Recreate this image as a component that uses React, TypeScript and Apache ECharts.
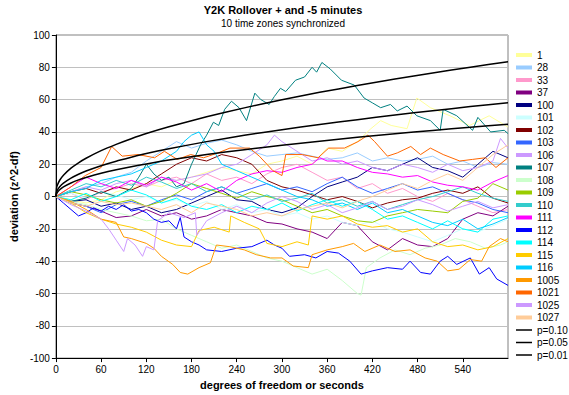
import React, { useEffect, useRef } from "react";
import * as echarts from "echarts";

// ---- data (x = seconds, y = deviation z^2-df) ----
const s1 = [[0,0],[20,-2],[40,-4],[60,-2],[80,3],[100,5],[120,8],[140,6],[160,10],[180,12],[200,15],[220,18],[240,16],[260,14],[280,20],[300,22],[320,25],[340,20],[360,30],[380,28],[400,34],[418,42],[431,47],[445,44],[466,42],[479,61],[497,55],[523,50],[549,44],[575,50],[600,43]];
const s28 = [[0,0],[20,3],[40,6],[60,8],[80,12],[100,15],[120,22],[140,28],[160,34],[180,30],[200,33],[220,35],[240,32],[260,28],[280,25],[300,26],[320,27],[340,25],[360,23],[380,24],[400,27],[420,22],[440,24],[460,22],[480,23],[500,25],[520,20],[540,22],[560,18],[580,21],[600,20]];
const s33 = [[0,0],[20,2],[40,-2],[60,3],[80,5],[100,8],[120,6],[140,10],[160,12],[180,8],[200,14],[220,10],[240,12],[260,8],[280,14],[300,18],[320,20],[340,15],[360,10],[380,12],[400,5],[420,8],[440,2],[460,5],[480,0],[500,-3],[520,2],[540,-2],[560,-6],[580,-10],[600,-8]];
const s37 = [[0,0],[20,-4],[40,-6],[60,-9],[80,-13],[100,-12],[120,-8],[140,-12],[160,-10],[180,-14],[200,-12],[220,-8],[240,-10],[260,-12],[280,-16],[300,-17],[320,-20],[340,-22],[360,-26],[380,-16],[400,-18],[420,-28],[440,-33],[460,-26],[480,-30],[500,-31],[520,-26],[540,-14],[560,-10],[580,-12],[600,-6]];
const s100 = [[0,0],[20,-3],[40,-2],[60,-6],[80,-4],[100,-8],[120,-6],[140,-10],[160,-8],[180,-4],[200,0],[220,4],[240,-2],[260,-3],[280,-8],[300,-10],[320,-7],[340,0],[360,6],[380,9],[400,12],[420,18],[440,16],[460,20],[480,24],[500,18],[520,16],[540,12],[560,20],[580,28],[600,24]];
const s101 = [[0,0],[20,2],[40,-1],[60,3],[80,1],[100,-2],[120,0],[140,-4],[160,-2],[180,-6],[200,-3],[220,-8],[240,-5],[260,-10],[280,-8],[300,-12],[320,-10],[340,-14],[360,-12],[380,-16],[400,-18],[420,-15],[440,-20],[460,-22],[480,-25],[500,-28],[520,-24],[540,-20],[560,-22],[580,-18],[600,-14]];
const s102 = [[0,0],[20,3],[40,5],[60,2],[80,6],[100,4],[120,8],[140,14],[160,20],[180,24],[200,22],[220,26],[240,24],[260,20],[280,10],[300,6],[320,4],[340,1],[360,-2],[380,0],[400,-3],[420,-7],[440,-4],[460,-2],[480,-1],[500,2],[520,4],[540,2],[560,6],[580,-1],[600,-4]];
const s103 = [[0,0],[20,-4],[40,-6],[60,-10],[80,-5],[100,-3],[120,-6],[140,-2],[160,1],[180,-2],[200,3],[220,6],[240,2],[260,5],[280,8],[300,4],[320,6],[340,3],[360,8],[380,12],[400,6],[420,2],[440,5],[460,8],[480,4],[500,6],[520,2],[540,-2],[560,-4],[580,-8],[600,-10]];
const s106 = [[0,0],[20,3],[40,6],[60,4],[80,8],[100,10],[120,6],[140,12],[160,10],[180,12],[200,14],[220,18],[240,20],[260,26],[280,32],[290,38],[300,34],[320,28],[340,22],[360,24],[380,20],[400,22],[420,18],[440,16],[460,20],[480,18],[500,15],[520,20],[540,16],[560,18],[580,22],[590,36],[600,30]];
const s107 = [[0,0],[20,-3],[40,-1],[60,3],[80,0],[100,5],[110,12],[120,20],[130,14],[140,10],[150,12],[160,6],[170,8],[180,20],[192,32],[200,38],[209,46],[216,44],[224,54],[233,59],[243,55],[253,47],[264,64],[272,60],[283,57],[290,62],[298,67],[305,65],[318,72],[330,74],[340,80],[346,77],[353,83],[364,79],[379,72],[396,69],[409,61],[420,58],[431,55],[444,57],[453,53],[466,56],[479,50],[497,47],[510,41],[514,54],[532,50],[553,41],[560,49],[577,40],[595,41],[600,39]];
const s108 = [[0,0],[20,-3],[40,-5],[60,-8],[80,-10],[100,-12],[120,-15],[140,-14],[160,-20],[180,-24],[200,-28],[220,-32],[240,-30],[260,-34],[280,-38],[300,-40],[320,-44],[340,-48],[360,-45],[380,-52],[400,-60],[405,-61],[412,-44],[430,-38],[450,-33],[470,-36],[490,-32],[510,-30],[530,-26],[550,-28],[570,-32],[590,-30],[600,-28]];
const s109 = [[0,0],[20,3],[40,1],[60,-2],[80,-4],[100,-2],[120,-6],[140,-3],[160,2],[180,8],[200,5],[220,2],[240,-1],[260,3],[280,0],[300,-2],[320,-6],[340,-10],[360,-8],[380,-12],[400,-15],[420,-16],[440,-12],[460,-10],[480,-8],[500,-9],[520,-10],[540,-3],[560,-1],[580,8],[600,4]];
const s110 = [[0,0],[20,4],[40,8],[60,6],[80,10],[100,7],[120,12],[140,9],[160,5],[180,8],[200,3],[220,6],[240,2],[260,-2],[280,1],[300,-3],[320,-1],[340,2],[360,-4],[380,-2],[400,-6],[420,-3],[440,-8],[460,-5],[480,-2],[500,0],[520,3],[540,6],[560,2],[580,-1],[600,-3]];
const s111 = [[0,0],[20,6],[40,12],[60,8],[80,5],[100,10],[120,7],[140,12],[160,9],[180,4],[200,8],[220,3],[240,10],[260,14],[280,16],[300,15],[320,18],[340,20],[350,24],[360,22],[380,22],[400,18],[420,15],[440,14],[460,12],[480,13],[500,9],[520,7],[540,6],[560,4],[580,9],[600,13]];
const s112 = [[0,0],[10,-4],[20,-8],[30,-12],[40,-10],[50,-7],[60,-9],[70,-6],[80,-8],[90,-5],[100,-9],[110,-8],[120,-10],[130,-14],[140,-16],[150,-15],[160,-20],[165,-13],[170,-25],[180,-28],[190,-30],[200,-33],[220,-34],[240,-32],[260,-31],[280,-27],[290,-30],[300,-32],[310,-37],[330,-36],[345,-38],[360,-34],[375,-35],[390,-40],[405,-48],[420,-46],[440,-44],[460,-45],[470,-40],[484,-47],[497,-48],[510,-40],[520,-37],[532,-42],[550,-38],[562,-48],[575,-44],[585,-51],[600,-55]];
const s114 = [[0,0],[20,-2],[40,2],[60,-3],[80,0],[100,4],[120,1],[140,-4],[160,-1],[180,-6],[200,-8],[220,-5],[240,-10],[260,-6],[280,-8],[300,-4],[320,-9],[340,-5],[360,-2],[380,-6],[400,-3],[420,-8],[440,-14],[460,-12],[480,-16],[500,-20],[520,-15],[540,-20],[560,-22],[580,-14],[600,-12]];
const s115 = [[0,0],[20,-4],[40,-10],[60,-14],[80,-17],[100,-19],[120,-22],[140,-27],[160,-30],[180,-31],[190,-21],[210,-19],[230,-22],[232,-12],[250,-16],[270,-20],[280,-29],[300,-31],[320,-28],[335,-30],[340,-12],[360,-14],[380,-12],[400,-17],[420,-19],[440,-18],[460,-22],[480,-20],[500,-28],[520,-31],[540,-30],[560,-33],[580,-31],[600,-26]];
const s116 = [[0,0],[20,3],[40,5],[60,10],[80,12],[100,14],[120,18],[140,22],[160,28],[170,34],[180,38],[190,40],[200,32],[210,28],[220,20],[240,16],[260,12],[280,8],[300,4],[320,0],[340,-2],[360,-6],[380,-4],[400,-8],[420,-4],[440,-10],[460,-8],[480,-12],[500,-16],[520,-18],[540,-14],[560,-20],[580,-17],[600,-13]];
const s1005 = [[0,0],[20,-3],[40,-8],[60,-14],[80,-16],[90,-25],[100,-26],[120,-29],[130,-32],[140,-37],[155,-42],[165,-47],[175,-48],[190,-44],[205,-41],[213,-30],[230,-31],[250,-33],[266,-36],[285,-38],[300,-38],[315,-43],[335,-44],[340,-36],[360,-33],[380,-31],[395,-29],[410,-34],[430,-30],[450,-34],[470,-33],[490,-38],[506,-40],[520,-46],[535,-45],[550,-39],[565,-40],[575,-31],[590,-26],[600,-28]];
const s1021 = [[0,0],[20,6],[39,13],[60,18],[74,31],[88,25],[109,26],[131,24],[144,28],[161,23],[179,26],[196,24],[215,27],[231,30],[257,30],[270,25],[288,16],[300,13],[305,26],[327,26],[348,24],[362,30],[383,30],[401,34],[414,38],[423,34],[440,25],[453,27],[471,31],[484,26],[497,30],[514,26],[536,22],[553,23],[570,24],[584,18],[600,24]];
const s1025 = [[0,0],[20,-5],[40,-9],[60,-14],[70,-20],[80,-27],[90,-34],[95,-26],[105,-30],[115,-37],[120,-31],[130,-33],[135,-15],[150,-10],[170,-13],[185,-10],[187,-24],[200,-15],[220,-10],[240,-6],[260,-10],[280,-4],[300,0],[320,-3],[340,-8],[360,-5],[380,-10],[400,-7],[420,-3],[440,-8],[460,-6],[480,-2],[500,-5],[520,-9],[540,-6],[560,-3],[580,-7],[600,-5]];
const s1027 = [[0,0],[20,-4],[40,-6],[60,-3],[80,-5],[100,-4],[120,-6],[140,-8],[160,-5],[180,-10],[200,-4],[220,-6],[240,-8],[260,-12],[280,-10],[300,-12],[320,-8],[340,-6],[360,-4],[380,-7],[400,-3],[420,0],[440,4],[460,8],[480,5],[500,10],[520,14],[540,10],[560,18],[580,26],[600,32]];

// critical curves (chi-square critical value minus df)
const p10 = [[0,0],[1,1.7],[2,2.6],[5,4.2],[10,6.0],[20,8.4],[30,10.3],[40,11.8],[60,14.4],[80,16.6],[100,18.5],[120,20.2],[150,22.6],[200,26.0],[250,29.0],[300,31.8],[350,34.3],[400,36.7],[450,38.9],[500,40.9],[550,42.9],[600,44.8]];
const p05 = [[0,0],[1,2.8],[2,4.0],[5,6.1],[10,8.3],[20,11.4],[30,13.8],[40,15.8],[60,19.1],[80,21.9],[100,24.3],[120,26.6],[150,29.6],[200,34.0],[250,37.9],[300,41.4],[350,44.6],[400,47.6],[450,50.5],[500,53.1],[550,55.7],[600,58.1]];
const p01 = [[0,0],[1,5.6],[2,7.2],[5,10.1],[10,13.2],[20,17.6],[30,20.9],[40,23.7],[60,28.4],[80,32.3],[100,35.8],[120,39.0],[150,43.2],[200,49.4],[250,54.9],[300,59.9],[350,64.5],[400,68.7],[450,72.7],[500,76.5],[550,80.1],[600,83.5]];

const seriesNames = ["1","28","33","37","100","101","102","103","106","107","108","109","110","111","112","114","115","116","1005","1021","1025","1027"];
const seriesData = [s1,s28,s33,s37,s100,s101,s102,s103,s106,s107,s108,s109,s110,s111,s112,s114,s115,s116,s1005,s1021,s1025,s1027];
const seriesColors = ["#FFFF99","#99CCFF","#FF99CC","#800080","#000080","#CCFFFF","#800000","#3366FF","#CC99FF","#008080","#CCFFCC","#99CC00","#33CCCC","#FF00FF","#0000FF","#00FFFF","#FFCC00","#00CCFF","#FF9900","#FF6600","#CC99FF","#FFCC99"];
const pNames = ["p=0.10","p=0.05","p=0.01"];
const pData = [p10, p05, p01];

const FONT = "'Liberation Sans', Arial, sans-serif";

export default function App() {
  const ref = useRef<HTMLDivElement>(null);
  useEffect(() => {
    if (!ref.current) return;
    const chart = echarts.init(ref.current, undefined, { renderer: "svg" });
    const series: any[] = seriesNames.map((n, i) => ({
      name: n,
      type: "line",
      data: seriesData[i],
      color: seriesColors[i],
      showSymbol: false,
      symbol: "none",
      lineStyle: { width: 1, color: seriesColors[i] },
      z: 2,
    }));
    pNames.forEach((n, i) => {
      series.push({
        name: n,
        type: "line",
        data: pData[i],
        color: "#000000",
        showSymbol: false,
        symbol: "none",
        smooth: 0.2,
        lineStyle: { width: 1.5, color: "#000000" },
        z: 3,
      });
    });
    const legendText = { fontSize: 10, color: "#000", lineHeight: 12, fontFamily: FONT };
    chart.setOption({
      animation: false,
      backgroundColor: "#ffffff",
      textStyle: { fontFamily: FONT },
      title: {
        text: "Y2K Rollover + and -5 minutes",
        subtext: "10 time zones synchronized",
        left: 283,
        textAlign: "center",
        top: 4,
        padding: 0,
        itemGap: 3,
        textStyle: { fontSize: 11, fontWeight: "bold", color: "#000", fontFamily: FONT },
        subtextStyle: { fontSize: 10, color: "#000", fontFamily: FONT },
      },
      legend: [
        {
          data: seriesNames,
          orient: "vertical",
          left: 516,
          top: 49,
          padding: 0,
          icon: "rect",
          itemWidth: 16,
          itemHeight: 4,
          itemGap: 0.5,
          selectedMode: false,
          textStyle: legendText,
        },
        {
          data: pNames,
          orient: "vertical",
          left: 516,
          top: 324,
          padding: 0,
          icon: "rect",
          itemWidth: 16,
          itemHeight: 1.5,
          itemGap: 0.5,
          selectedMode: false,
          textStyle: legendText,
        },
      ],
      grid: {
        left: 50,
        top: 35,
        right: 61,
        bottom: 32,
        show: true,
        borderColor: "#808080",
        borderWidth: 1,
        backgroundColor: "transparent",
      },
      xAxis: {
        type: "value",
        min: 0,
        max: 600,
        interval: 60,
        name: "degrees of freedom or seconds",
        nameLocation: "middle",
        nameGap: 17,
        nameTextStyle: { fontSize: 11, fontWeight: "bold", color: "#000", fontFamily: FONT },
        axisLine: { show: true, onZero: false, lineStyle: { color: "#000", width: 1 } },
        axisTick: { show: true, length: 4, lineStyle: { color: "#000" } },
        axisLabel: { fontSize: 10, color: "#000", margin: 6, showMaxLabel: false, fontFamily: FONT },
        splitLine: { show: false },
      },
      yAxis: {
        type: "value",
        min: -100,
        max: 100,
        interval: 20,
        name: "deviation (z^2-df)",
        nameLocation: "middle",
        nameGap: 32,
        nameRotate: 90,
        nameTextStyle: { fontSize: 11, fontWeight: "bold", color: "#000", fontFamily: FONT },
        axisLine: { show: true, onZero: false, lineStyle: { color: "#000", width: 1 } },
        axisTick: { show: true, length: 4, lineStyle: { color: "#000" } },
        axisLabel: { fontSize: 10, color: "#000", margin: 6, fontFamily: FONT },
        splitLine: { show: true, lineStyle: { color: "#C0C0C0", width: 1 } },
      },
      series,
    });
    return () => chart.dispose();
  }, []);
  return (
    <div
      ref={ref}
      style={{ position: "fixed", left: 0, top: 0, width: 569, height: 395, background: "#fff" }}
    />
  );
}
